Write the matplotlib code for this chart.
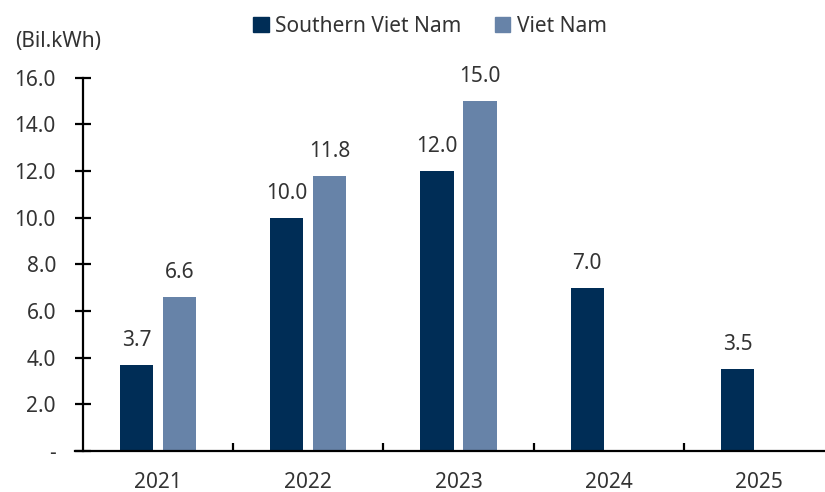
import matplotlib

matplotlib.use("Agg")
import matplotlib.pyplot as plt
import numpy as np
from matplotlib.patches import Patch
from matplotlib.ticker import FixedLocator, FuncFormatter

years = ["2021", "2022", "2023", "2024", "2025"]
southern = [3.7, 10.0, 12.0, 7.0, 3.5]
vietnam = [6.6, 11.8, 15.0, None, None]
series_names = ["Southern Viet Nam", "Viet Nam"]

DARK = "#002d56"
LIGHT = "#6783a8"
TEXT = "#333333"

plt.rcParams["font.family"] = ["Noto Sans", "DejaVu Sans"]
plt.rcParams["font.weight"] = "light"
plt.rcParams["font.size"] = 15

fig = plt.figure(figsize=(8.25, 4.92), dpi=100)
ax = fig.add_axes([83 / 825, 41 / 492, 751 / 825, 373.3 / 492])

x = np.arange(len(years))
width = 0.22
offset = 0.143

for xi, val in zip(x, southern):
    ax.bar(xi - offset, val, width, color=DARK, zorder=2)
    ax.annotate(f"{val:.1f}", (xi - offset, val), xytext=(0, 10),
                textcoords="offset points", ha="center", va="bottom",
                color=TEXT, fontsize=15)
for xi, val in zip(x, vietnam):
    if val is None:
        continue
    ax.bar(xi + offset, val, width, color=LIGHT, zorder=2)
    ax.annotate(f"{val:.1f}", (xi + offset, val), xytext=(0, 10),
                textcoords="offset points", ha="center", va="bottom",
                color=TEXT, fontsize=15)

ax.set_xlim(-0.5, len(years) - 0.5)
ax.set_ylim(0, 16)

for side in ("top", "right"):
    ax.spines[side].set_visible(False)
ax.spines["left"].set_linewidth(1.6)
ax.spines["bottom"].set_linewidth(1.6)
ax.spines["bottom"].set_bounds(-0.55, len(years) - 0.5)

# y axis: crossing ticks, dash for zero
ax.set_yticks(np.arange(0, 17, 2))
ax.yaxis.set_major_formatter(FuncFormatter(lambda v, _: "-" if v == 0 else f"{v:.1f}"))
ax.tick_params(axis="y", direction="inout", length=11, width=1.6,
               pad=14, colors="black", labelcolor=TEXT, labelsize=15)

# x axis: labels at group centres, small ticks between groups
ax.xaxis.set_major_locator(FixedLocator(x))
ax.set_xticklabels(years)
ax.xaxis.set_minor_locator(FixedLocator(x[:-1] + 0.5))
ax.tick_params(axis="x", which="major", length=0, pad=15,
               labelcolor=TEXT, labelsize=15)
ax.tick_params(axis="x", which="minor", direction="in", length=6, width=1.6,
               colors="black")

fig.text(15 / 825, 1 - 41 / 492, "(Bil.kWh)", ha="left", va="center",
         color=TEXT, fontsize=15)

handles = [Patch(color=DARK), Patch(color=LIGHT)]
fig.legend(handles, series_names, loc="center", bbox_to_anchor=(430 / 825, 1 - 26 / 492),
           ncol=2, frameon=False, fontsize=15, handlelength=0.75, handleheight=0.75,
           handletextpad=0.3, columnspacing=1.6, labelcolor=TEXT)

fig.savefig("out.png", dpi=100)
